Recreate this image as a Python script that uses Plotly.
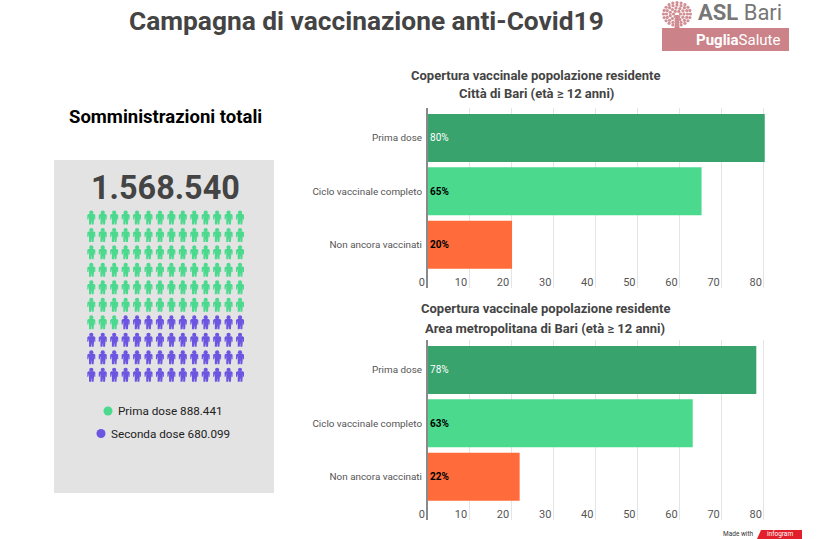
import numpy as np
import plotly.graph_objects as go

### Data
categories = ["Prima dose", "Ciclo vaccinale completo", "Non ancora vaccinati"]
bari_values = [80.2, 65.2, 20.2]
bari_labels = ["80%", "<b>65%</b>", "<b>20%</b>"]
metro_values = [78.2, 63.1, 22.0]
metro_labels = ["78%", "<b>63%</b>", "<b>22%</b>"]
bar_colors = ["#38a36d", "#4ad98d", "#ff6b3a"]
bar_text_colors = ["#ffffff", "#000000", "#000000"]
x_ticks = [0, 10, 20, 30, 40, 50, 60, 70, 80]

total_label = "1.568.540"
legend_labels = ["Prima dose 888.441", "Seconda dose 680.099"]
icon_rows = 10
icon_cols = 14
icons_first_dose = 87

FONT = "Roboto"
GREEN = "#4ad98d"
PURPLE = "#6c55e0"

# one person, relative to its centre
person_x = [-2.8, 2.8, 4, 4, 3, 3, 2.3, 2.3, 0.35, 0.35, -0.35, -0.35, -2.3, -2.3, -3, -3, -4, -4, -2.8]
person_y = [-3.7, -3.7, -2.7, 1.8, 1.8, -1.5, -1.5, 6.7, 6.7, 2.5, 2.5, 6.7, 6.7, -1.5, -1.5, 1.8, 1.8, -2.7, -3.7]


def add_bars(fig, values, labels, xaxis, yaxis):
    fig.add_trace(go.Bar(y=categories, x=values, orientation="h", width=0.9,
                         marker=dict(color=bar_colors, line_width=0),
                         text=labels, textposition="inside", insidetextanchor="start",
                         textangle=0, cliponaxis=False,
                         textfont=dict(family=FONT, size=10, color=bar_text_colors),
                         xaxis=xaxis, yaxis=yaxis, showlegend=False, hoverinfo="skip"))


def people_trace(cells, color):
    xs, ys, heads_x, heads_y = [], [], [], []
    for row, col in cells:
        cx = 91.3 + col * 11.44
        cy = 217.7 + row * 17.48
        xs += [cx + p for p in person_x] + [None]
        ys += [cy + p for p in person_y] + [None]
        heads_x.append(cx)
        heads_y.append(cy - 5.2)
    body = go.Scatter(x=xs, y=ys, mode="lines", fill="toself", fillcolor=color,
                      line=dict(width=0, color=color), xaxis="x3", yaxis="y3",
                      showlegend=False, hoverinfo="skip")
    head = go.Scatter(x=heads_x, y=heads_y, mode="markers",
                      marker=dict(size=4.2, color=color), xaxis="x3", yaxis="y3",
                      showlegend=False, hoverinfo="skip")
    return [body, head]


fig = go.Figure()
add_bars(fig, bari_values, bari_labels, "x", "y")
add_bars(fig, metro_values, metro_labels, "x2", "y2")

cells = [(r, c) for r in range(icon_rows) for c in range(icon_cols)]
fig.add_traces(people_trace(cells[:icons_first_dose], GREEN))
fig.add_traces(people_trace(cells[icons_first_dose:], PURPLE))

# legend dots
fig.add_trace(go.Scatter(x=[108, 101], y=[411, 433.5], mode="markers",
                         marker=dict(size=9, color=[GREEN, PURPLE]),
                         xaxis="x3", yaxis="y3", showlegend=False, hoverinfo="skip"))

# logo tree
petal_x, petal_y = [], []
for radius, count in [(3.5, 6), (7, 11), (10.5, 16), (13.5, 20)]:
    for a in np.linspace(0, 2 * np.pi, count, endpoint=False):
        petal_x.append(677 + radius * np.cos(a))
        petal_y.append(14 + radius * 0.85 * np.sin(a))
fig.add_trace(go.Scatter(x=petal_x, y=petal_y, mode="markers",
                         marker=dict(size=3.2, color="#d08f94"),
                         xaxis="x3", yaxis="y3", showlegend=False, hoverinfo="skip"))

W, H = 818, 539
px_per_unit = 4.21
left_pad = 12
x_dom = [(427 - left_pad) / W, 766 / W]
axis_x = dict(range=[-left_pad / px_per_unit, 80.5], tickvals=x_ticks, ticklabelposition="inside left",
              ticklabelstandoff=-6, ticklabelshift=-2, showgrid=True, gridcolor="#e4e4e4", gridwidth=1,
              zeroline=False, tickfont=dict(family=FONT, size=11, color="#555555"), ticks="", domain=x_dom)
axis_y = dict(categoryorder="array", categoryarray=categories, showgrid=False, zeroline=False,
              showline=True, linecolor="#8a8a8a", linewidth=2, ticks="", ticklen=0,
              anchor="free", position=427 / W, ticklabelstandoff=2,
              tickfont=dict(family=FONT, size=9.9, color="#555555"))

texts = [
    ("Campagna di vaccinazione anti-Covid19", 366, 21, 26.3, "#444444", True),
    ("Somministrazioni totali", 165, 117, 18.5, "#000000", True),
    (total_label, 165.5, 188, 32.4, "#444444", True),
    (legend_labels[0], 170, 411, 11.7, "#222222", False),
    (legend_labels[1], 170, 433.5, 11.7, "#222222", False),
    ("Copertura vaccinale popolazione residente", 536, 75, 13, "#444444", True),
    ("Città di Bari (età ≥ 12 anni)", 536, 93, 13, "#444444", True),
    ("Copertura vaccinale popolazione residente", 546, 308, 13, "#444444", True),
    ("Area metropolitana di Bari (età ≥ 12 anni)", 545, 328, 13, "#444444", True),
    ("<b>ASL</b> Bari", 740, 12, 22, "#777777", False),
    ("<b>Puglia</b>Salute", 738, 40, 15, "#ffffff", False),
    ("Made with", 738, 534, 6.5, "#333333", False),
    ("infogram", 780, 534, 6.5, "#ffffff", False),
]
annotations = [dict(text=f"<b>{t}</b>" if bold else t, x=x, y=y, xref="x3", yref="y3",
                    showarrow=False, borderpad=0, font=dict(family=FONT, size=size, color=color))
               for t, x, y, size, color, bold in texts]

shapes = [
    dict(type="rect", xref="x3", yref="y3", x0=54, x1=274, y0=160, y1=493,
         fillcolor="#e3e3e3", line_width=0, layer="below"),
    dict(type="rect", xref="x3", yref="y3", x0=662, x1=789, y0=28, y1=51,
         fillcolor="#cb8389", line_width=0, layer="below"),
    dict(type="path", xref="x3", yref="y3", path="M 675.5 15 L 678.5 15 L 679.5 28 L 674.5 28 Z",
         fillcolor="#cc8288", line_width=0, layer="below"),
    dict(type="path", xref="x3", yref="y3", path="M 761 530 L 802 530 L 802 539 L 757 539 Z",
         fillcolor="#e2202c", line_width=0, layer="below"),
]

fig.update_layout(
    width=W, height=H, margin=dict(l=0, r=0, t=0, b=0), autosize=False,
    paper_bgcolor="#ffffff", plot_bgcolor="rgba(0,0,0,0)", bargap=0.1,
    font=dict(family=FONT),
    xaxis=dict(axis_x, anchor="y"),
    yaxis=dict(axis_y, range=[2.81, -0.56], domain=[1 - 288 / H, 1 - 108 / H]),
    xaxis2=dict(axis_x, anchor="y2"),
    yaxis2=dict(axis_y, range=[2.81, -0.56], domain=[1 - 520 / H, 1 - 340 / H]),
    xaxis3=dict(range=[0, W], domain=[0, 1], visible=False, anchor="y3"),
    yaxis3=dict(range=[H, 0], domain=[0, 1], visible=False, anchor="x3"),
    annotations=annotations, shapes=shapes,
)

fig.write_html("out.html", config=dict(displayModeBar=False),
               post_script="document.body.style.margin='0';")
